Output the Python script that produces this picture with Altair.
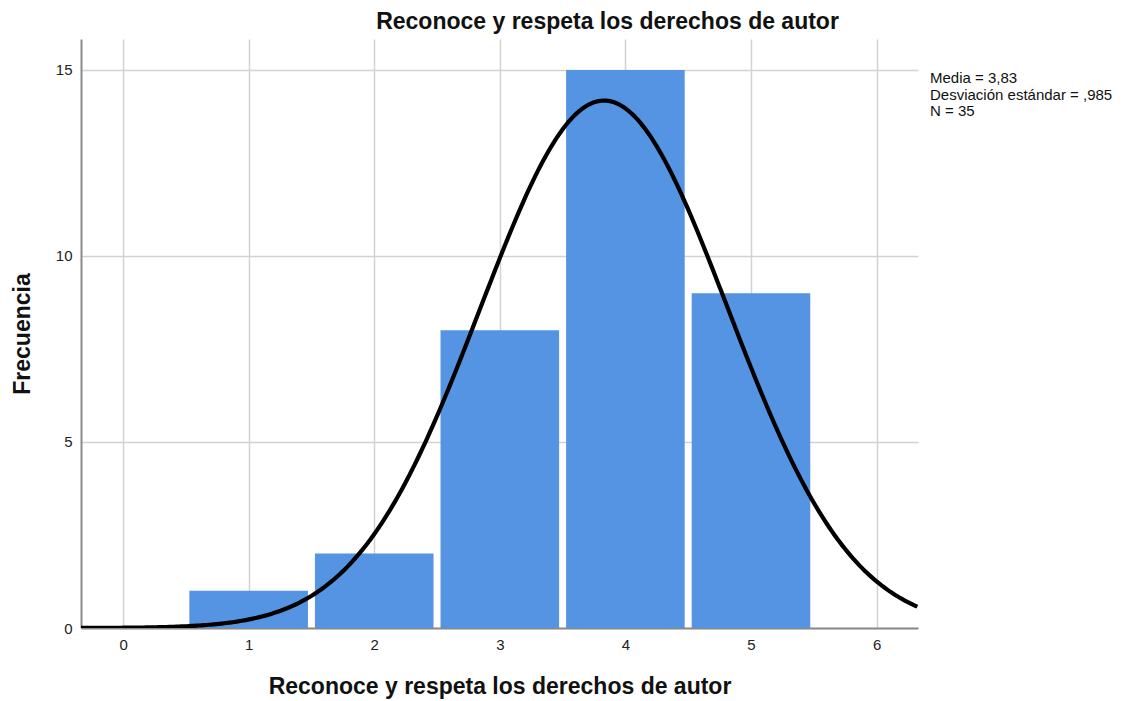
import altair as alt
import pandas as pd

# Data
bin_centers = [1, 2, 3, 4, 5]
frequencies = [1, 2, 8, 15, 9]
mean_val = 3.83
sd_val = 0.985
n_val = 35
x_ticks = [0, 1, 2, 3, 4, 5, 6]
y_ticks = [0, 5, 10, 15]
stats_lines = ["Media = 3,83", "Desviación estándar = ,985", "N = 35"]
title_text = "Reconoce y respeta los derechos de autor"

bars = pd.DataFrame({
    "lo": [c - 0.5 for c in bin_centers],
    "hi": [c + 0.5 for c in bin_centers],
    "freq": frequencies,
})

FONT = "Liberation Sans"
xdom = [-0.335, 6.33]
ydom = [0, 15.83]

xscale = alt.Scale(domain=xdom, nice=False, zero=False)
yscale = alt.Scale(domain=ydom, nice=False)

base_x_axis = alt.Axis(values=x_ticks, title=title_text, format="d", grid=True)
base_y_axis = alt.Axis(values=y_ticks, title="Frecuencia", format="d", grid=True)

bar_layer = alt.Chart(bars).mark_rect(
    color="#5594e3", xOffset=3.5, x2Offset=-3.5
).encode(
    x=alt.X("lo:Q", scale=xscale, axis=base_x_axis),
    x2="hi:Q",
    y=alt.Y("freq:Q", scale=yscale, axis=base_y_axis),
    y2=alt.datum(0),
)

curve = alt.Chart(alt.sequence(start=xdom[0], stop=xdom[1] + 0.01, step=0.02, as_="x")).transform_calculate(
    y=f"{n_val} * densityNormal(datum.x, {mean_val}, {sd_val})"
).mark_line(color="black", strokeWidth=4.2, clip=True).encode(
    x=alt.X("x:Q", scale=xscale),
    y=alt.Y("y:Q", scale=yscale),
)

stats = alt.Chart(pd.DataFrame({"t": [0]})).mark_text(
    align="left", baseline="alphabetic", font=FONT, fontSize=15,
    lineHeight=16.5, color="#111"
).encode(
    x=alt.value(849),
    y=alt.value(44),
    text=alt.value(stats_lines),
)

chart = alt.layer(bar_layer, curve, stats).properties(
    width=837,
    height=589,
    autosize=alt.AutoSizeParams(type="none"),
    padding={"left": 73, "top": 31, "right": 200, "bottom": 72},
    title=alt.TitleParams(
        text=title_text, font=FONT, fontSize=23, fontWeight="bold",
        color="#111", anchor="middle", dx=108, offset=5
    ),
).configure_view(
    stroke=None
).configure_axis(
    domainColor="#8a8a8a",
    domainWidth=2,
    ticks=False,
    gridColor="#d2d2d2",
    gridWidth=1.5,
    labelFont=FONT,
    labelFontSize=15,
    labelColor="#222",
    titleFont=FONT,
    titleFontSize=23,
    titleFontWeight="bold",
    titleColor="#111",
).configure_axisX(
    labelPadding=9,
    titlePadding=23,
).configure_axisY(
    labelPadding=9,
    titlePadding=21,
)

chart.save("out.html", embed_options={"renderer": "svg", "actions": False})
